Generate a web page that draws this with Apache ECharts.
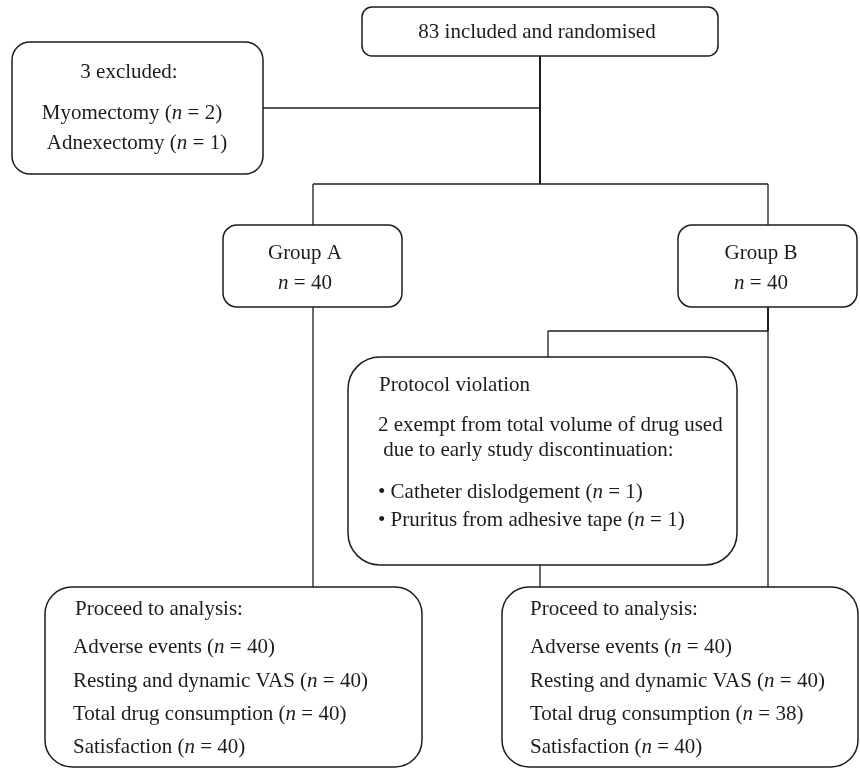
<!DOCTYPE html>
<html>
<head>
<meta charset="utf-8">
<script src="https://cdn.jsdelivr.net/npm/echarts@6/dist/echarts.min.js"></script>
<style>
html,body{margin:0;padding:0;background:#fff;}
#chart{width:860px;height:769px;}
</style>
</head>
<body>
<div id="chart"></div>
<script>
// ---- data ----
const enrolledCount = 83;
const enrolledLabel = 'included and randomised';
const excludedCount = 3;
const exclusionReasons = ['Myomectomy', 'Adnexectomy'];
const exclusionCounts = [2, 1];
const groupNames = ['Group A', 'Group B'];
const groupSizes = [40, 40];
const protocolTitle = 'Protocol violation';
const protocolNote = ['2 exempt from total volume of drug used', ' due to early study discontinuation:'];
const violationReasons = ['Catheter dislodgement', 'Pruritus from adhesive tape'];
const violationCounts = [1, 1];
const analysisTitle = 'Proceed to analysis:';
const outcomes = ['Adverse events', 'Resting and dynamic VAS', 'Total drug consumption', 'Satisfaction'];
const groupAOutcomeN = [40, 40, 40, 40];
const groupBOutcomeN = [40, 40, 38, 40];

// ---- layout / style ----
const FONT = '"Liberation Serif", "DejaVu Serif", serif';
const FS = 21;
const INK = '#1e1b1c';
const rich = { i: { fontStyle: 'italic', fontSize: FS, fontFamily: FONT, fill: INK, color: INK } };
const nStr = n => '({i|n} = ' + n + ')';

function box(x, y, w, h, r) {
  return { type: 'rect', shape: { x: x, y: y, width: w, height: h, r: r },
    style: { fill: '#fff', stroke: INK, lineWidth: 1.5 } };
}
function seg(x1, y1, x2, y2, lw) {
  return { type: 'line', shape: { x1: x1, y1: y1, x2: x2, y2: y2 },
    style: { stroke: INK, lineWidth: lw || 1.3 } };
}
function txt(x, y, s, align) {
  return { type: 'text', x: x, y: y,
    style: { text: s, fontSize: FS, fontFamily: FONT, fill: INK,
      align: align || 'center', verticalAlign: 'middle',
      textAlign: align || 'center', textVerticalAlign: 'middle', rich: rich } };
}

const els = [];
// connectors
els.push(seg(540, 56, 540, 184, 2));
els.push(seg(263, 108, 540, 108));
els.push(seg(313, 184, 768, 184));
els.push(seg(313, 184, 313, 587));
els.push(seg(768, 184, 768, 587));
els.push(seg(768, 307, 768, 331, 2));
els.push(seg(548, 331, 768, 331));
els.push(seg(548, 331, 548, 357));
els.push(seg(540, 565, 540, 587));

// boxes
els.push(box(362, 7, 356, 49, 10));
els.push(box(12, 42, 251, 132, 18));
els.push(box(223, 225, 179, 82, 14));
els.push(box(678, 225, 179, 82, 14));
els.push(box(348, 357, 389, 208, 32));
els.push(box(45, 587, 377, 180, 27));
els.push(box(502, 587, 356, 180, 27));

// texts
els.push(txt(537, 32, enrolledCount + ' ' + enrolledLabel));
els.push(txt(129, 72, excludedCount + ' excluded:'));
const exclX = [132, 137], exclY = [113, 143];
exclusionReasons.forEach((r, i) => els.push(txt(exclX[i], exclY[i], r + ' ' + nStr(exclusionCounts[i]))));

const gx = [305, 761];
groupNames.forEach((g, i) => {
  els.push(txt(gx[i], 253, g));
  els.push(txt(gx[i], 283, '{i|n} = ' + groupSizes[i]));
});

els.push(txt(379, 385, protocolTitle, 'left'));
els.push(txt(378, 425, protocolNote[0], 'left'));
els.push(txt(378, 450, protocolNote[1], 'left'));
const vy = [492, 520];
violationReasons.forEach((r, i) => els.push(txt(378, vy[i], '\u2022 ' + r + ' ' + nStr(violationCounts[i]), 'left')));

const oy = [647, 681, 714, 747];
els.push(txt(75, 609, analysisTitle, 'left'));
els.push(txt(530, 609, analysisTitle, 'left'));
outcomes.forEach((o, i) => {
  els.push(txt(73, oy[i], o + ' ' + nStr(groupAOutcomeN[i]), 'left'));
  els.push(txt(530, oy[i], o + ' ' + nStr(groupBOutcomeN[i]), 'left'));
});

const chart = echarts.init(document.getElementById('chart'), null, { renderer: 'canvas' });
chart.setOption({ animation: false, backgroundColor: '#fff', graphic: { elements: els } });
</script>
</body>
</html>
